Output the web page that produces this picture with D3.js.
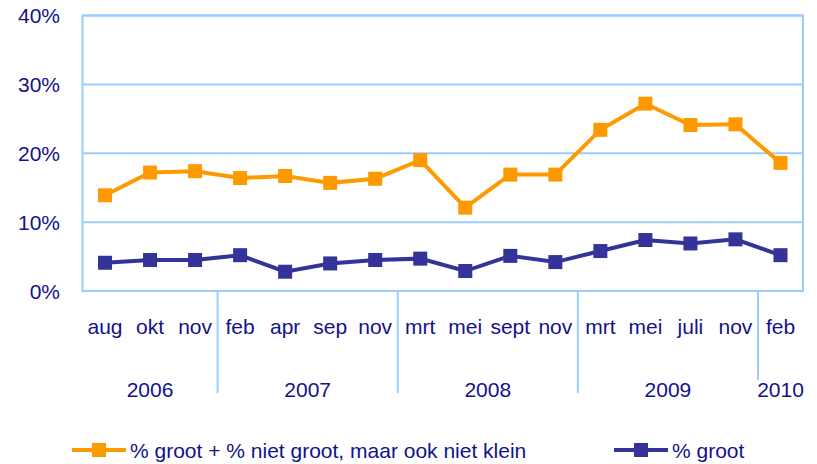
<!DOCTYPE html>
<html lang="nl">
<head>
<meta charset="UTF-8">
<title>% groot</title>
<script src="https://d3js.org/d3.v7.min.js"></script>
<style>
  body { margin: 0; background: #fff; }
  svg text { font-family: "Liberation Sans", Arial, sans-serif; fill: #12128c; }
</style>
</head>
<body>
<svg width="817" height="464"></svg>
<script>
// data (percent)
const months = ["aug", "okt", "nov", "feb", "apr", "sep", "nov", "mrt", "mei", "sept", "nov", "mrt", "mei", "juli", "nov", "feb"];
const years = ["2006", "2007", "2008", "2009", "2010"];
const monthsPerYear = [3, 4, 4, 4, 1];
const grootPlus = [13.9, 17.2, 17.4, 16.4, 16.7, 15.7, 16.3, 19.0, 12.1, 16.9, 16.9, 23.4, 27.2, 24.1, 24.2, 18.6];
const groot = [4.1, 4.5, 4.5, 5.2, 2.8, 4.0, 4.5, 4.7, 2.9, 5.1, 4.2, 5.8, 7.4, 6.9, 7.5, 5.2];
const yTicks = [0, 10, 20, 30, 40];
const seriesNames = ["% groot + % niet groot, maar ook niet klein", "% groot"];

const orange = "#ff9900", navy = "#333399", grid = "#99ccff";
const fs = 21;

const svg = d3.select("svg");
const plotL = 82.5, plotR = 803, plotT = 15.5, plotB = 291;

const x = d3.scaleBand().domain(d3.range(months.length)).range([plotL, plotR]);
const y = d3.scaleLinear().domain([0, 40]).range([plotB, plotT]);
const cx = i => x(i) + x.bandwidth() / 2;

// gridlines
svg.append("g").selectAll("line")
  .data(yTicks.filter(d => d > 0))
  .join("line")
  .attr("x1", plotL).attr("x2", plotR)
  .attr("y1", d => y(d)).attr("y2", d => y(d))
  .attr("stroke", grid).attr("stroke-width", 2);

// frame
svg.append("rect")
  .attr("x", plotL).attr("y", plotT)
  .attr("width", plotR - plotL).attr("height", plotB - plotT)
  .attr("fill", "none").attr("stroke", grid).attr("stroke-width", 2);

// y axis labels
svg.append("g").selectAll("text")
  .data(yTicks)
  .join("text")
  .attr("x", 60).attr("y", d => y(d))
  .attr("dy", "0.36em")
  .attr("text-anchor", "end")
  .attr("font-size", fs)
  .text(d => d + "%");

// month labels
svg.append("g").selectAll("text")
  .data(months)
  .join("text")
  .attr("x", (d, i) => cx(i)).attr("y", 334)
  .attr("text-anchor", "middle")
  .attr("font-size", fs)
  .text(d => d);

// year groups
let start = 0;
const groups = years.map((yr, k) => {
  const g = { year: yr, first: start, last: start + monthsPerYear[k] - 1 };
  start += monthsPerYear[k];
  return g;
});

svg.append("g").selectAll("text")
  .data(groups)
  .join("text")
  .attr("x", d => (cx(d.first) + cx(d.last)) / 2).attr("y", 397)
  .attr("text-anchor", "middle")
  .attr("font-size", fs)
  .text(d => d.year);

svg.append("g").selectAll("line")
  .data(groups.slice(1))
  .join("line")
  .attr("x1", d => x(d.first)).attr("x2", d => x(d.first))
  .attr("y1", plotB)
  .attr("y2", (d, i, n) => i === n.length - 1 ? 380 : 393)
  .attr("stroke", grid).attr("stroke-width", 2);

// series
const line = d3.line().x((d, i) => cx(i)).y(d => y(d));
const series = [
  { values: grootPlus, color: orange },
  { values: groot, color: navy }
];

series.forEach(s => {
  svg.append("path")
    .datum(s.values)
    .attr("d", line)
    .attr("fill", "none")
    .attr("stroke", s.color)
    .attr("stroke-width", 4)
    .attr("stroke-linejoin", "miter");
  svg.append("g").selectAll("rect")
    .data(s.values)
    .join("rect")
    .attr("x", (d, i) => cx(i) - 7).attr("y", d => y(d) - 7)
    .attr("width", 14).attr("height", 14)
    .attr("fill", s.color);
});

// legend
const legendX = [72, 614];
const legend = svg.append("g").selectAll("g")
  .data(series)
  .join("g")
  .attr("transform", (d, i) => `translate(${legendX[i]},450)`);
legend.append("line")
  .attr("x1", 0).attr("x2", 54)
  .attr("stroke", d => d.color).attr("stroke-width", 4);
legend.append("rect")
  .attr("x", 20).attr("y", -7).attr("width", 14).attr("height", 14)
  .attr("fill", d => d.color);
legend.append("text")
  .attr("x", 58).attr("dy", "0.36em")
  .attr("font-size", fs)
  .text((d, i) => seriesNames[i]);
</script>
</body>
</html>
